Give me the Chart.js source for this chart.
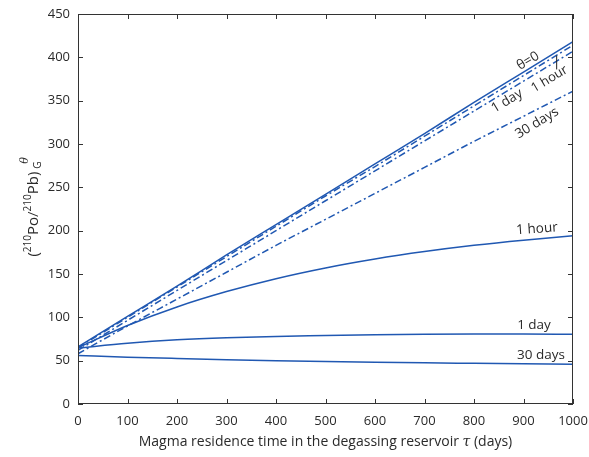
<!DOCTYPE html>
<html>
<head>
<meta charset="utf-8">
<script src="https://cdn.jsdelivr.net/npm/chart.js@4"></script>
<style>
  html, body { margin: 0; padding: 0; background: #fff; }
  #wrap { width: 589px; height: 457px; position: relative; }
</style>
</head>
<body>
<div id="wrap"><canvas id="c" width="589" height="457"></canvas></div>
<script>
// ---- data ----
const tau = [0, 100, 200, 300, 400, 500, 600, 700, 800, 900, 1000];
const theta0      = [66, 101, 136, 172, 207, 242, 277, 312, 348, 383, 418];
const dash1hour   = [65, 100, 135, 170, 205, 240, 274, 309, 344, 379, 414];
const dash1day    = [62, 96.5, 131, 165.5, 200, 234.5, 269, 303.5, 338, 372.5, 407];
const dash30days  = [58, 90, 121, 152, 183, 213, 243, 273, 303, 332, 361];
const solid1hour  = [65, 90.6, 112, 129.7, 144.6, 157, 167.3, 175.9, 183.1, 189, 194];
const solid1day   = [64.5, 70, 74, 76.5, 78, 79, 80, 80.5, 80.7, 80.7, 80.5];
const solid30days = [56, 54, 52.5, 51.2, 50, 49, 48.2, 47.5, 47, 46.5, 46];
const xTicks = [0, 100, 200, 300, 400, 500, 600, 700, 800, 900, 1000];
const yTicks = [0, 50, 100, 150, 200, 250, 300, 350, 400, 450];

const BLUE = 'rgb(32,88,178)';
const TXT = '#2a2a2a';
const FONT = '"Open Sans", "Noto Sans", sans-serif';
const DASHDOT = [7, 3, 2, 3];

function pts(arr) { return tau.map((t, i) => ({ x: t, y: arr[i] })); }
function ds(label, arr, dashed) {
  return {
    label, data: pts(arr), borderColor: BLUE, borderWidth: 1.5,
    borderDash: dashed ? DASHDOT : [], pointRadius: 0, fill: false,
    cubicInterpolationMode: 'monotone'
  };
}

const decor = {
  id: 'decor',
  afterDatasetsDraw(chart) {
    const { ctx, chartArea: a, scales: { x, y } } = chart;
    ctx.save();
    // frame
    ctx.strokeStyle = '#333'; ctx.lineWidth = 1;
    ctx.strokeRect(a.left + 0.5, a.top + 0.5, a.right - a.left - 1, a.bottom - a.top - 1);
    // inward ticks on all sides
    ctx.beginPath();
    const TL = 5;
    xTicks.forEach(v => {
      const px = Math.round(x.getPixelForValue(v)) + 0.5;
      ctx.moveTo(px, a.bottom); ctx.lineTo(px, a.bottom - TL);
      ctx.moveTo(px, a.top); ctx.lineTo(px, a.top + TL);
    });
    yTicks.forEach(v => {
      const py = Math.round(y.getPixelForValue(v)) + 0.5;
      ctx.moveTo(a.left, py); ctx.lineTo(a.left + TL, py);
      ctx.moveTo(a.right, py); ctx.lineTo(a.right - TL, py);
    });
    ctx.stroke();

    // connector line for upper "1 hour" label
    const cx = x.getPixelForValue(967);
    ctx.beginPath();
    ctx.strokeStyle = '#222';
    ctx.moveTo(cx, y.getPixelForValue(402)); ctx.lineTo(cx, y.getPixelForValue(386));
    ctx.stroke();

    ctx.fillStyle = TXT;
    ctx.textAlign = 'center'; ctx.textBaseline = 'middle';
    function label(txt, px, py, rot, size) {
      ctx.save();
      ctx.translate(px, py); ctx.rotate(rot * Math.PI / 180);
      ctx.font = (size || 13.5) + 'px ' + FONT;
      ctx.fillText(txt, 0, 0);
      ctx.restore();
    }
    // upper labels (along the straight lines)
    label('θ=0', 528, 61, -31);
    label('1 hour', 549.5, 79, -31, 13);
    label('1 day', 507, 101, -31);
    label('30 days', 537, 123, -31);
    // lower labels
    label('1 hour', 537, 229, -4);
    label('1 day', 534, 325, 0);
    label('30 days', 541, 355, 0);

    // x-axis title
    ctx.textAlign = 'left'; ctx.textBaseline = 'alphabetic';
    const f1 = '14px ' + FONT, f2 = 'italic 14px "DejaVu Serif", serif';
    const parts = [['Magma residence time in the degassing reservoir ', f1], ['τ', f2], [' (days)', f1]];
    let w = 0;
    parts.forEach(p => { ctx.font = p[1]; w += ctx.measureText(p[0]).width; });
    let xx = (a.left + a.right) / 2 - w / 2;
    parts.forEach(p => { ctx.font = p[1]; ctx.fillText(p[0], xx, 446); xx += ctx.measureText(p[0]).width; });

    // y-axis title (rotated)
    ctx.save();
    ctx.translate(38, 207);
    ctx.rotate(-Math.PI / 2);
    const big = '15px ' + FONT, small = '10px ' + FONT;
    const seq = [['(', big, 0], ['210', small, -7], ['Po/', big, 0], ['210', small, -7], ['Pb)', big, 0]];
    let total = 0;
    seq.forEach(s => { ctx.font = s[1]; total += ctx.measureText(s[0]).width; });
    ctx.font = small; const gw = ctx.measureText('G').width;
    total += 3 + gw + 4;
    let px = -total / 2;
    seq.forEach(s => { ctx.font = s[1]; ctx.fillText(s[0], px, s[2]); px += ctx.measureText(s[0]).width; });
    ctx.font = small;
    ctx.fillText('G', px + 3, 3);
    ctx.font = 'italic 11px "DejaVu Serif", serif';
    ctx.fillText('θ', px + 8, -10);
    ctx.restore();

    ctx.restore();
  }
};

new Chart(document.getElementById('c'), {
  type: 'line',
  data: {
    datasets: [
      ds('θ=0', theta0, false),
      ds('1 hour (dash-dot)', dash1hour, true),
      ds('1 day (dash-dot)', dash1day, true),
      ds('30 days (dash-dot)', dash30days, true),
      ds('1 hour', solid1hour, false),
      ds('1 day', solid1day, false),
      ds('30 days', solid30days, false)
    ]
  },
  options: {
    responsive: false,
    animation: false,
    devicePixelRatio: 1,
    layout: { padding: { top: 14, right: 16, left: 0, bottom: 0 } },
    plugins: { legend: { display: false }, tooltip: { enabled: false } },
    scales: {
      x: {
        type: 'linear', min: 0, max: 1000,
        afterBuildTicks: s => { s.ticks = xTicks.map(v => ({ value: v })); },
        afterFit: s => { s.height = 53; s.paddingLeft = 0; s.paddingRight = 0; },
        grid: { display: false, drawTicks: false },
        border: { display: false },
        ticks: { color: TXT, font: { family: FONT, size: 13 }, padding: 9, maxRotation: 0,
                 callback: v => String(v) }
      },
      y: {
        type: 'linear', min: 0, max: 450,
        afterBuildTicks: s => { s.ticks = yTicks.map(v => ({ value: v })); },
        afterFit: s => { s.width = 78; s.paddingTop = 0; s.paddingBottom = 0; },
        grid: { display: false, drawTicks: false },
        border: { display: false },
        ticks: { color: TXT, font: { family: FONT, size: 13 }, padding: 8, callback: v => String(v) }
      }
    }
  },
  plugins: [decor]
});
</script>
</body>
</html>
